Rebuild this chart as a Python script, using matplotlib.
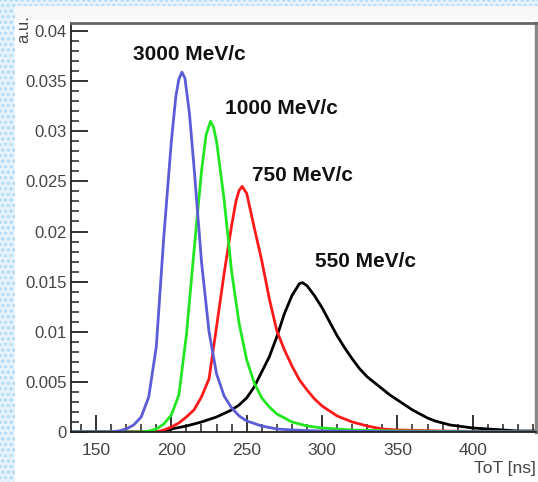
import matplotlib
matplotlib.use("Agg")
import matplotlib.pyplot as plt
from matplotlib.patches import Rectangle
from matplotlib.ticker import MultipleLocator

plt.rcParams['font.family'] = ['Liberation Sans', 'DejaVu Sans']
plt.rcParams['hatch.linewidth'] = 0.6

# ToT spectra (a.u.) for four beam momenta
tot_3000 = [130, 160, 165, 170, 175, 180, 185, 190, 195, 200, 203, 205, 207, 209, 212,
            215, 220, 225, 230, 235, 240, 245, 250, 260, 270, 280, 300, 350, 445]
val_3000 = [0.0, 0.0, 0.0001, 0.0003, 0.0007, 0.0015, 0.0035, 0.0085, 0.0195, 0.0290,
            0.0335, 0.0352, 0.0359, 0.0353, 0.0318, 0.0265, 0.0170, 0.0100, 0.0058,
            0.0036, 0.0024, 0.0016, 0.0011, 0.0006, 0.0003, 0.0002, 0.0001, 0.00003, 0.0]

tot_1000 = [130, 180, 185, 190, 195, 200, 205, 210, 215, 220, 223, 226, 228, 230, 235,
            240, 245, 250, 255, 260, 265, 270, 280, 290, 300, 320, 350, 400, 445]
val_1000 = [0.0, 0.0, 0.0001, 0.0003, 0.0008, 0.0017, 0.0037, 0.0097, 0.0180, 0.0260,
            0.0296, 0.0310, 0.0304, 0.0290, 0.0232, 0.0160, 0.0108, 0.0072, 0.0049,
            0.0034, 0.0025, 0.0018, 0.0010, 0.0006, 0.0004, 0.0002, 0.0001, 0.00003, 0.0]

tot_750 = [130, 190, 195, 200, 205, 210, 215, 220, 225, 230, 235, 240, 243, 245, 247,
           250, 255, 260, 265, 270, 275, 280, 285, 290, 295, 300, 310, 320, 330, 340,
           350, 380, 420, 445]
val_750 = [0.0, 0.0, 0.0002, 0.0005, 0.0009, 0.0015, 0.0022, 0.0035, 0.0053, 0.0105,
           0.0158, 0.0206, 0.0231, 0.0241, 0.0245, 0.0238, 0.0204, 0.0171, 0.0133,
           0.0101, 0.0082, 0.0066, 0.0052, 0.0042, 0.0033, 0.0026, 0.0016, 0.0010,
           0.0006, 0.0003, 0.0002, 0.0001, 0.00003, 0.0]

tot_550 = [130, 190, 195, 200, 210, 220, 230, 240, 245, 250, 255, 260, 265, 270, 275,
           280, 285, 287, 290, 295, 300, 305, 310, 315, 320, 325, 330, 335, 340, 345,
           350, 355, 360, 365, 370, 375, 380, 385, 390, 400, 410, 420, 430, 445]
val_550 = [0.0, 0.0, 0.0001, 0.0003, 0.0006, 0.0010, 0.0015, 0.0022, 0.0027, 0.0034,
           0.0045, 0.0060, 0.0075, 0.0095, 0.0118, 0.0136, 0.0148, 0.0149, 0.0146,
           0.0136, 0.0124, 0.0110, 0.0096, 0.0084, 0.0073, 0.0063, 0.0055, 0.0049,
           0.0043, 0.0037, 0.0032, 0.0027, 0.0022, 0.0018, 0.0014, 0.0011, 0.0009,
           0.0007, 0.0006, 0.0004, 0.0003, 0.0002, 0.0001, 0.0001]

labels = ['3000 MeV/c', '1000 MeV/c', '750 MeV/c', '550 MeV/c']
label_pos = [(174.5, 0.0377), (235.6, 0.0323), (253.3, 0.0256), (295.3, 0.0170)]

fig = plt.figure(figsize=(5.38, 4.82), dpi=100)
fig.patch.set_facecolor('white')

# dotted frame strips
fig.patches.append(Rectangle((0, 0), 15 / 538, 1, transform=fig.transFigure,
                             facecolor='#e6f3fd', edgecolor='#b5dbf7', hatch='ooo',
                             lw=0, zorder=0))
fig.patches.append(Rectangle((0, 1 - 6 / 482), 1, 6 / 482, transform=fig.transFigure,
                             facecolor='#e6f3fd', edgecolor='#b5dbf7', hatch='ooo',
                             lw=0, zorder=0))
fig.patches.append(Rectangle((15 / 538, 1 - 20 / 482), 1, 14 / 482,
                             transform=fig.transFigure, facecolor='#f8f8f8',
                             lw=0, zorder=0))

ax = fig.add_axes([71 / 538, 50 / 482, 465 / 538, 409 / 482])

line_kw = dict(lw=2.0, solid_joinstyle='round')
ax.plot(tot_550, val_550, color='black', **line_kw)
ax.plot(tot_750, val_750, color='#ff1a1a', **line_kw)
ax.plot(tot_1000, val_1000, color='#22e622', **line_kw)
ax.plot(tot_3000, val_3000, color='#5c5cd6', **line_kw)

for text, (x, y) in zip(labels, label_pos):
    ax.text(x, y, text, fontsize=15, fontweight='bold', ha='left', va='center',
            color='#111111')

ax.set_xlim(133.4, 442)
ax.set_ylim(0, 0.0408)

ax.xaxis.set_major_locator(MultipleLocator(50))
ax.xaxis.set_minor_locator(MultipleLocator(10))
ax.yaxis.set_minor_locator(MultipleLocator(0.001))
ax.set_yticks([0, 0.005, 0.01, 0.015, 0.02, 0.025, 0.03, 0.035, 0.04])
ax.set_yticklabels(['0', '0.005', '0.01', '0.015', '0.02', '0.025', '0.03', '0.035', '0.04'])

ax.tick_params(axis='both', which='both', direction='in', top=False, right=False,
               colors='#222222', labelcolor='#444444')
ax.tick_params(axis='both', which='major', length=12, width=1.3)
ax.tick_params(axis='both', which='minor', length=6, width=1.1)
ax.tick_params(axis='x', labelsize=12.5, pad=8)
ax.tick_params(axis='y', labelsize=12, pad=3)

ax.spines['left'].set_color('#222222')
ax.spines['bottom'].set_color('#222222')
ax.spines['left'].set_linewidth(1.3)
ax.spines['bottom'].set_linewidth(1.3)
ax.spines['top'].set_color('#666666')
ax.spines['right'].set_color('#888888')
ax.spines['top'].set_linewidth(2)
ax.spines['right'].set_linewidth(2.5)

fig.text(24 / 538, 1 - 15 / 482, 'a.u.', rotation=90, ha='center', va='top',
         fontsize=12, color='#444444')
fig.text(536 / 538, 1 - 469 / 482, 'ToT [ns]', ha='right', va='center',
         fontsize=12.5, color='#444444')

fig.savefig('out.png', dpi=100)
